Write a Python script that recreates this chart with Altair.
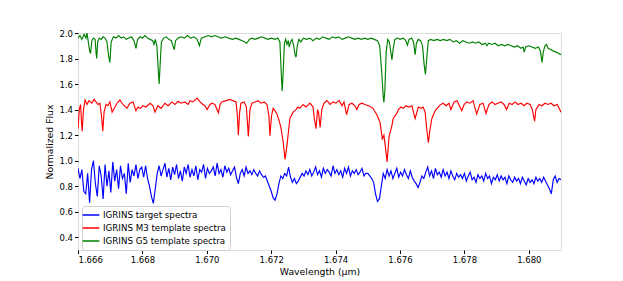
import altair as alt
import pandas as pd

# ---------------- data ----------------
series_names = ["IGRINS target spectra", "IGRINS M3 template spectra", "IGRINS G5 template spectra"]
series_colors = ["#0000ff", "#ff0000", "#008000"]

# target spectrum: regular sampling grid
blue_start = 1.666
blue_step = 0.00006
blue_flux = [
    0.94, 0.86, 0.93, 0.76, 0.74, 0.90, 0.67, 0.93, 1.00, 0.82,
    0.72, 0.96, 0.88, 0.70, 0.97, 0.80, 0.92, 0.75, 0.99, 0.84,
    0.93, 0.78, 0.96, 0.86, 0.90, 0.74, 0.98, 0.83, 0.93, 0.88,
    0.97, 0.86, 0.93, 0.95, 0.87, 0.96, 0.86, 0.80, 0.72, 0.665,
    0.78, 0.90, 0.96, 0.88, 0.93, 0.98, 0.87, 0.94, 0.85, 0.95,
    0.89, 0.97, 0.86, 0.92, 0.84, 0.95, 0.90, 0.97, 0.87, 0.93,
    0.88, 0.96, 0.85, 0.93, 0.91, 0.97, 0.86, 0.94, 0.90, 0.92,
    0.95, 0.88, 0.98, 0.90, 0.93, 0.87, 0.96, 0.91, 0.94, 0.89,
    0.92, 0.95, 0.87, 0.82, 0.90, 0.93, 0.88, 0.95, 0.90, 0.92,
    0.89, 0.93, 0.90, 0.88, 0.92, 0.89, 0.87, 0.88, 0.84, 0.80,
    0.76, 0.71, 0.69, 0.74, 0.82, 0.88, 0.86, 0.90, 0.88, 0.95,
    0.87, 0.83, 0.86, 0.82, 0.84, 0.87, 0.90, 0.88, 0.92, 0.89,
    0.93, 0.88, 0.91, 0.95, 0.89, 0.92, 0.87, 0.94, 0.90, 0.93,
    0.91, 0.88, 0.96, 0.90, 0.93, 0.89, 0.92, 0.87, 0.94, 0.90,
    0.95, 0.88, 0.92, 0.90, 0.93, 0.89, 0.91, 0.94, 0.88, 0.90,
    0.90, 0.88, 0.86, 0.83, 0.74, 0.68, 0.70, 0.80, 0.90, 0.86,
    0.93, 0.88, 0.92, 0.86, 0.90, 0.94, 0.87, 0.91, 0.88, 0.93,
    0.89, 0.86, 0.92, 0.87, 0.84, 0.82, 0.79, 0.83, 0.88, 0.86,
    0.91, 0.95, 0.88, 0.92, 0.86, 0.94, 0.89, 0.91, 0.87, 0.93,
    0.88, 0.91, 0.86, 0.92, 0.88, 0.85, 0.90, 0.87, 0.89, 0.86,
    0.90, 0.84, 0.88, 0.91, 0.85, 0.87, 0.83, 0.89, 0.86, 0.88,
    0.84, 0.90, 0.86, 0.88, 0.82, 0.87, 0.85, 0.89, 0.84, 0.88,
    0.85, 0.87, 0.82, 0.88, 0.85, 0.83, 0.87, 0.84, 0.86, 0.82,
    0.87, 0.84, 0.81, 0.86, 0.83, 0.85, 0.82, 0.87, 0.84, 0.86,
    0.83, 0.87, 0.84, 0.81, 0.78, 0.74, 0.85, 0.88, 0.83, 0.86, 0.85,
]
blue_wl = [round(blue_start + blue_step * i, 5) for i in range(len(blue_flux))]

red_wl = [
    1.66600, 1.66604, 1.66608, 1.66611, 1.66613, 1.66617, 1.66622, 1.66628, 1.66634, 1.66643,
    1.66650, 1.66656, 1.66662, 1.66668, 1.66673, 1.66677, 1.66681, 1.66687, 1.66693, 1.66699,
    1.66706, 1.66715, 1.66721, 1.66730, 1.66740, 1.66752, 1.66761, 1.66771, 1.66780, 1.66786,
    1.66793, 1.66802, 1.66811, 1.66824, 1.66833, 1.66839, 1.66848, 1.66858, 1.66870, 1.66880,
    1.66892, 1.66901, 1.66911, 1.66920, 1.66932, 1.66942, 1.66948, 1.66957, 1.66970, 1.66979,
    1.66988, 1.66994, 1.67001, 1.67010, 1.67016, 1.67025, 1.67036, 1.67041, 1.67047, 1.67060,
    1.67072, 1.67081, 1.67091, 1.67095, 1.67098, 1.67102, 1.67106, 1.67116, 1.67123, 1.67129,
    1.67134, 1.67140, 1.67150, 1.67159, 1.67168, 1.67178, 1.67187, 1.67193, 1.67196, 1.67201,
    1.67206, 1.67212, 1.67217, 1.67224, 1.67230, 1.67237, 1.67243, 1.67249, 1.67258, 1.67268,
    1.67277, 1.67283, 1.67289, 1.67299, 1.67308, 1.67320, 1.67330, 1.67334, 1.67339, 1.67344,
    1.67347, 1.67352, 1.67357, 1.67364, 1.67373, 1.67383, 1.67392, 1.67401, 1.67411, 1.67420,
    1.67426, 1.67434, 1.67442, 1.67451, 1.67460, 1.67466, 1.67473, 1.67482, 1.67491, 1.67501,
    1.67510, 1.67516, 1.67528, 1.67538, 1.67545, 1.67550, 1.67555, 1.67560, 1.67566, 1.67574,
    1.67579, 1.67590, 1.67595, 1.67603, 1.67610, 1.67618, 1.67628, 1.67637, 1.67647, 1.67657,
    1.67666, 1.67672, 1.67678, 1.67683, 1.67688, 1.67693, 1.67699, 1.67709, 1.67724, 1.67734,
    1.67743, 1.67752, 1.67758, 1.67768, 1.67777, 1.67792, 1.67799, 1.67808, 1.67817, 1.67827,
    1.67838, 1.67848, 1.67858, 1.67867, 1.67876, 1.67886, 1.67895, 1.67904, 1.67914, 1.67923,
    1.67931, 1.67939, 1.67948, 1.67957, 1.67966, 1.67976, 1.67985, 1.67994, 1.68004, 1.68011,
    1.68018, 1.68022, 1.68032, 1.68041, 1.68050, 1.68060, 1.68069, 1.68078, 1.68088, 1.68094,
    1.68100,
]
red_flux = [
    1.25, 1.40, 1.44, 1.30, 1.23, 1.40, 1.475, 1.44, 1.47, 1.45,
    1.48, 1.46, 1.44, 1.45, 1.35, 1.23, 1.38, 1.44, 1.43, 1.46,
    1.38, 1.42, 1.45, 1.475, 1.44, 1.41, 1.45, 1.46, 1.39, 1.42,
    1.41, 1.43, 1.42, 1.45, 1.43, 1.38, 1.43, 1.41, 1.45, 1.43,
    1.46, 1.44, 1.465, 1.45, 1.46, 1.44, 1.47, 1.46, 1.49, 1.46,
    1.44, 1.43, 1.40, 1.44, 1.45, 1.44, 1.375, 1.44, 1.46, 1.47,
    1.48, 1.47, 1.46, 1.35, 1.20, 1.38, 1.45, 1.46, 1.42, 1.19,
    1.40, 1.45, 1.46, 1.47, 1.45, 1.46, 1.44, 1.35, 1.195, 1.35,
    1.41, 1.39, 1.37, 1.32, 1.26, 1.15, 1.01, 1.12, 1.33, 1.38,
    1.40, 1.42, 1.41, 1.44, 1.42, 1.45, 1.42, 1.33, 1.25, 1.40,
    1.38, 1.26, 1.40, 1.45, 1.47, 1.44, 1.46, 1.45, 1.47, 1.43,
    1.46, 1.36, 1.44, 1.45, 1.43, 1.40, 1.44, 1.45, 1.44, 1.43,
    1.42, 1.41, 1.36, 1.30, 1.17, 1.20, 1.10, 0.99, 1.19, 1.265,
    1.33, 1.37, 1.40, 1.42, 1.41, 1.43, 1.42, 1.43, 1.33, 1.42,
    1.41, 1.42, 1.38, 1.25, 1.14, 1.24, 1.33, 1.39, 1.435, 1.45,
    1.43, 1.45, 1.40, 1.46, 1.47, 1.39, 1.44, 1.46, 1.45, 1.47,
    1.365, 1.44, 1.45, 1.37, 1.44, 1.46, 1.44, 1.45, 1.46, 1.44,
    1.40, 1.45, 1.44, 1.46, 1.44, 1.45, 1.43, 1.45, 1.44, 1.40,
    1.31, 1.40, 1.44, 1.43, 1.45, 1.44, 1.45, 1.43, 1.44, 1.41,
    1.38,
]

green_wl = [
    1.66600, 1.66606, 1.66612, 1.66619, 1.66625, 1.66628, 1.66632, 1.66636, 1.66639, 1.66643,
    1.66648, 1.66653, 1.66656, 1.66658, 1.66661, 1.66666, 1.66672, 1.66678, 1.66684, 1.66690,
    1.66695, 1.66699, 1.66703, 1.66710, 1.66718, 1.66726, 1.66734, 1.66742, 1.66750, 1.66758,
    1.66766, 1.66774, 1.66780, 1.66785, 1.66793, 1.66800, 1.66808, 1.66816, 1.66824, 1.66832,
    1.66836, 1.66840, 1.66845, 1.66849, 1.66852, 1.66855, 1.66859, 1.66866, 1.66874, 1.66882,
    1.66890, 1.66896, 1.66899, 1.66903, 1.66911, 1.66920, 1.66930, 1.66940, 1.66950, 1.66960,
    1.66970, 1.66977, 1.66983, 1.66994, 1.67005, 1.67015, 1.67025, 1.67035, 1.67045, 1.67057,
    1.67068, 1.67080, 1.67090, 1.67100, 1.67110, 1.67118, 1.67124, 1.67132, 1.67140, 1.67150,
    1.67160, 1.67170, 1.67181, 1.67190, 1.67200, 1.67212, 1.67220, 1.67227, 1.67231, 1.67234,
    1.67237, 1.67241, 1.67245, 1.67249, 1.67253, 1.67256, 1.67260, 1.67265, 1.67270, 1.67274,
    1.67277, 1.67281, 1.67286, 1.67292, 1.67300, 1.67310, 1.67320, 1.67330, 1.67340, 1.67350,
    1.67360, 1.67370, 1.67380, 1.67390, 1.67400, 1.67410, 1.67420, 1.67430, 1.67440, 1.67450,
    1.67460, 1.67470, 1.67480, 1.67490, 1.67500, 1.67510, 1.67520, 1.67530, 1.67537, 1.67543,
    1.67548, 1.67550, 1.67553, 1.67557, 1.67562, 1.67567, 1.67571, 1.67575, 1.67579, 1.67584,
    1.67592, 1.67600, 1.67610, 1.67618, 1.67623, 1.67628, 1.67636, 1.67642, 1.67647, 1.67651,
    1.67657, 1.67664, 1.67670, 1.67675, 1.67679, 1.67683, 1.67688, 1.67695, 1.67705, 1.67715,
    1.67725, 1.67735, 1.67745, 1.67755, 1.67765, 1.67775, 1.67785, 1.67795, 1.67805, 1.67815,
    1.67825, 1.67835, 1.67845, 1.67855, 1.67865, 1.67870, 1.67875, 1.67885, 1.67895, 1.67905,
    1.67915, 1.67925, 1.67935, 1.67945, 1.67955, 1.67965, 1.67975, 1.67982, 1.67986, 1.67990,
    1.68000, 1.68010, 1.68020, 1.68030, 1.68036, 1.68041, 1.68045, 1.68050, 1.68055, 1.68060,
    1.68068, 1.68075, 1.68085, 1.68093, 1.68100,
]
green_flux = [
    1.96, 1.98, 1.95, 1.99, 1.96, 2.00, 1.93, 1.86, 1.84, 1.94,
    1.96, 1.95, 1.85, 1.80, 1.93, 1.96, 1.95, 1.97, 1.96, 1.93,
    1.82, 1.77, 1.93, 1.97, 1.96, 1.98, 1.96, 1.97, 1.95, 1.96,
    1.97, 1.94, 1.88, 1.95, 1.97, 1.96, 1.98, 1.96, 1.95, 1.94,
    1.91, 1.95, 1.90, 1.72, 1.60, 1.75, 1.93, 1.96, 1.97, 1.95,
    1.94, 1.89, 1.87, 1.94, 1.96, 1.97, 1.96, 1.98, 1.96, 1.97,
    1.95, 1.90, 1.96, 1.97, 1.98, 1.97, 1.98, 1.97, 1.96, 1.97,
    1.96, 1.95, 1.96, 1.95, 1.94, 1.93, 1.92, 1.95, 1.96, 1.95,
    1.96, 1.97, 1.96, 1.95, 1.96, 1.95, 1.96, 1.93, 1.70, 1.545,
    1.68, 1.92, 1.95, 1.91, 1.94, 1.89, 1.93, 1.95, 1.90, 1.83,
    1.81, 1.90, 1.95, 1.93, 1.96, 1.95, 1.96, 1.94, 1.96, 1.95,
    1.97, 1.96, 1.95, 1.97, 1.96, 1.97, 1.95, 1.96, 1.97, 1.96,
    1.95, 1.96, 1.95, 1.96, 1.95, 1.96, 1.95, 1.94, 1.90, 1.70,
    1.50, 1.456, 1.55, 1.85, 1.95, 1.93, 1.86, 1.79, 1.88, 1.95,
    1.96, 1.95, 1.96, 1.94, 1.905, 1.95, 1.96, 1.93, 1.83, 1.92,
    1.95, 1.94, 1.90, 1.75, 1.676, 1.80, 1.94, 1.95, 1.94, 1.95,
    1.94, 1.95, 1.94, 1.95, 1.93, 1.94, 1.92, 1.94, 1.93, 1.92,
    1.93, 1.92, 1.93, 1.91, 1.92, 1.90, 1.92, 1.91, 1.92, 1.90,
    1.91, 1.90, 1.91, 1.90, 1.89, 1.90, 1.88, 1.89, 1.85, 1.89,
    1.90, 1.89, 1.88, 1.89, 1.86, 1.77, 1.85, 1.90, 1.91, 1.88,
    1.87, 1.86, 1.85, 1.84, 1.83,
]

x_ticks = [1.666, 1.668, 1.670, 1.672, 1.674, 1.676, 1.678, 1.680]
y_ticks = [0.4, 0.6, 0.8, 1.0, 1.2, 1.4, 1.6, 1.8, 2.0]

# ---------------- build table ----------------
frames = []
for k, (wl, fl) in enumerate([(blue_wl, blue_flux), (red_wl, red_flux), (green_wl, green_flux)]):
    frames.append(pd.DataFrame({"wl": wl, "flux": fl, "series": series_names[k], "order": k}))
df = pd.concat(frames, ignore_index=True)

FONT = "DejaVu Sans"

chart = (
    alt.Chart(df)
    .mark_line(strokeWidth=1.15, clip=True)
    .encode(
        x=alt.X(
            "wl:Q",
            scale=alt.Scale(domain=[1.666, 1.681], nice=False, zero=False),
            axis=alt.Axis(
                values=x_ticks, format=".3f", title="Wavelength (μm)",
                grid=False, domain=False, tickSize=3.5, tickColor="#000",
                labelFontSize=8.5, labelColor="#000", labelPadding=2,
                titleFontSize=9.3, titleFontWeight="normal", titleColor="#000",
                titlePadding=3, labelFont=FONT, titleFont=FONT,
            ),
        ),
        y=alt.Y(
            "flux:Q",
            scale=alt.Scale(domain=[0.3, 2.0], nice=False, zero=False),
            axis=alt.Axis(
                values=y_ticks, format=".1f", title="Normalized Flux",
                grid=False, domain=False, tickSize=3.5, tickColor="#000",
                labelFontSize=8.5, labelColor="#000", labelPadding=2,
                titleFontSize=9.3, titleFontWeight="normal", titleColor="#000",
                titlePadding=4, labelFont=FONT, titleFont=FONT,
            ),
        ),
        color=alt.Color(
            "series:N",
            scale=alt.Scale(domain=series_names, range=series_colors),
            legend=alt.Legend(
                title=None, orient="none", legendX=4, legendY=173,
                symbolType="M-2.1,0H2.1", symbolSize=64, symbolStrokeWidth=1.5,
                labelFontSize=8.7, labelFont=FONT, labelColor="#000", labelOffset=7,
                fillColor="white", strokeColor="#d0d0d0", cornerRadius=3,
                padding=4, rowPadding=3, offset=0,
            ),
        ),
        detail="series:N",
        order=alt.Order("wl:Q"),
    )
    .properties(
        width=483, height=217,
        autosize=alt.AutoSizeParams(type="none"),
        padding={"left": 70, "top": 25, "right": 54, "bottom": 30},
    )
    .configure_view(stroke="#333", strokeWidth=1)
    .configure(background="white")
)

chart.save("out.html", embed_options={"renderer": "svg", "actions": False})
